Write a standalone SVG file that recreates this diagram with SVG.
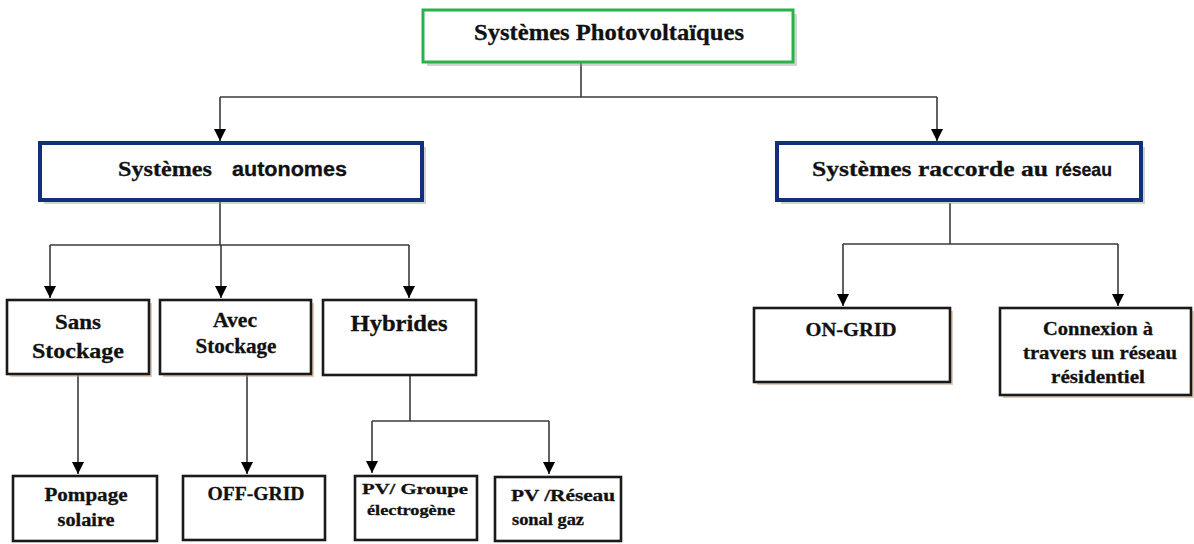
<svg xmlns="http://www.w3.org/2000/svg" width="1194" height="544" viewBox="0 0 1194 544">
  <style>
    .conn { fill: none; stroke: #3a3a3a; stroke-width: 1.6; }
    .box { fill: #ffffff; stroke: #1a1a1a; stroke-width: 2.6; }
    .navy { fill: #ffffff; stroke: #12307a; stroke-width: 4; }
    .green { fill: #ffffff; stroke: #2ab24a; stroke-width: 3; }
    .shadow { fill: #c9a07a; opacity: 0.55; }
    .gshadow { fill: #9aa09a; opacity: 0.45; }
    .t { font-family: "Liberation Serif", "Times New Roman", serif; font-weight: bold; fill: #111111; stroke: #111111; stroke-width: 0.3; }
    .s { font-family: "Liberation Sans", Arial, sans-serif; font-weight: bold; fill: #111111; stroke: #111111; stroke-width: 0.3; }
  </style>
  <defs>
    <marker id="arrow" markerUnits="userSpaceOnUse" markerWidth="14" markerHeight="14" refX="12" refY="6" orient="auto">
      <path d="M0,0 L12,6 L0,12 Z" fill="#000000"/>
    </marker>
  </defs>
  <rect width="1194" height="544" fill="#ffffff"/>

  <!-- connectors -->
  <g id="connectors">
    <path class="conn" d="M581,62 V97"/>
    <path class="conn" d="M220,97 H937"/>
    <path class="conn" d="M220,97 V141" marker-end="url(#arrow)"/>
    <path class="conn" d="M937,97 V141" marker-end="url(#arrow)"/>

    <path class="conn" d="M220,202 V245"/>
    <path class="conn" d="M50,245 H409"/>
    <path class="conn" d="M50,245 V298" marker-end="url(#arrow)"/>
    <path class="conn" d="M221,245 V298" marker-end="url(#arrow)"/>
    <path class="conn" d="M409,245 V298" marker-end="url(#arrow)"/>

    <path class="conn" d="M78,375 V474" marker-end="url(#arrow)"/>
    <path class="conn" d="M247,375 V474" marker-end="url(#arrow)"/>

    <path class="conn" d="M410,376 V421"/>
    <path class="conn" d="M372,421 H549"/>
    <path class="conn" d="M372,421 V473" marker-end="url(#arrow)"/>
    <path class="conn" d="M549,421 V474" marker-end="url(#arrow)"/>

    <path class="conn" d="M950,203 V244"/>
    <path class="conn" d="M843,244 H1118"/>
    <path class="conn" d="M843,244 V306" marker-end="url(#arrow)"/>
    <path class="conn" d="M1118,244 V306" marker-end="url(#arrow)"/>
  </g>

  <!-- root -->
  <g id="n-pv">
    <rect class="gshadow" x="427" y="14" width="370" height="52"/>
    <rect class="green" x="423" y="10" width="370" height="52"/>
    <text class="t" x="474" y="40" font-size="23" textLength="270" lengthAdjust="spacingAndGlyphs">Systèmes Photovoltaïques</text>
  </g>

  <!-- second level -->
  <g id="n-autonomes">
    <rect class="gshadow" x="44" y="147" width="382" height="57"/>
    <rect class="navy" x="40" y="143" width="382" height="57"/>
    <text class="t" x="118" y="176" font-size="22" textLength="94" lengthAdjust="spacingAndGlyphs">Systèmes</text>
    <text class="s" x="232" y="176" font-size="20" textLength="115" lengthAdjust="spacingAndGlyphs">autonomes</text>
  </g>
  <g id="n-raccorde">
    <rect class="gshadow" x="781" y="147" width="364" height="57"/>
    <rect class="navy" x="777" y="143" width="364" height="57"/>
    <text class="t" x="812" y="176" font-size="22" textLength="236" lengthAdjust="spacingAndGlyphs">Systèmes raccorde au</text>
    <text class="s" x="1055" y="176" font-size="19" textLength="57" lengthAdjust="spacingAndGlyphs">réseau</text>
  </g>

  <!-- third level, left -->
  <g id="n-sans">
    <rect class="shadow" x="10" y="303" width="142" height="74"/>
    <rect class="box" x="7" y="300" width="142" height="74"/>
    <text class="t" font-size="22" text-anchor="middle"><tspan x="78" y="329" textLength="46" lengthAdjust="spacingAndGlyphs">Sans</tspan><tspan x="78" y="358" textLength="92" lengthAdjust="spacingAndGlyphs">Stockage</tspan></text>
  </g>
  <g id="n-avec">
    <rect class="shadow" x="163" y="303" width="151" height="74"/>
    <rect class="box" x="160" y="300" width="151" height="74"/>
    <text class="t" font-size="20" text-anchor="middle"><tspan x="235" y="327" textLength="44" lengthAdjust="spacingAndGlyphs">Avec</tspan><tspan x="236" y="353" textLength="81" lengthAdjust="spacingAndGlyphs">Stockage</tspan></text>
  </g>
  <g id="n-hybrides">
    <rect class="box" x="323" y="300" width="153" height="75"/>
    <text class="t" x="399" y="331" font-size="23" text-anchor="middle" textLength="97" lengthAdjust="spacingAndGlyphs">Hybrides</text>
  </g>

  <!-- third level, right -->
  <g id="n-ongrid">
    <rect class="shadow" x="757" y="311" width="196" height="74"/>
    <rect class="box" x="754" y="308" width="196" height="74"/>
    <text class="t" x="851" y="336" font-size="19" text-anchor="middle" textLength="91" lengthAdjust="spacingAndGlyphs">ON-GRID</text>
  </g>
  <g id="n-connexion">
    <rect class="shadow" x="1003" y="311" width="192" height="87"/>
    <rect class="box" x="1000" y="308" width="191" height="87"/>
    <text class="t" font-size="19" text-anchor="middle"><tspan x="1098" y="335" textLength="110" lengthAdjust="spacingAndGlyphs">Connexion à</tspan><tspan x="1100" y="359" textLength="154" lengthAdjust="spacingAndGlyphs">travers un réseau</tspan><tspan x="1098" y="383" textLength="94" lengthAdjust="spacingAndGlyphs">résidentiel</tspan></text>
  </g>

  <!-- fourth level -->
  <g id="n-pompage">
    <rect class="box" x="13" y="476" width="144" height="65"/>
    <text class="t" font-size="18" text-anchor="middle"><tspan x="86" y="501" textLength="83" lengthAdjust="spacingAndGlyphs">Pompage</tspan><tspan x="86" y="526" textLength="57" lengthAdjust="spacingAndGlyphs">solaire</tspan></text>
  </g>
  <g id="n-offgrid">
    <rect class="box" x="183" y="476" width="142" height="64"/>
    <text class="t" x="256" y="500" font-size="19" text-anchor="middle" textLength="97" lengthAdjust="spacingAndGlyphs">OFF-GRID</text>
  </g>
  <g id="n-groupe">
    <rect class="box" x="355" y="476" width="122" height="64"/>
    <text class="t" font-size="15" text-anchor="middle"><tspan x="415" y="494" textLength="106" lengthAdjust="spacingAndGlyphs">PV/ Groupe</tspan><tspan x="411" y="515" textLength="88" lengthAdjust="spacingAndGlyphs">électrogène</tspan></text>
  </g>
  <g id="n-sonalgaz">
    <rect class="box" x="495" y="477" width="126" height="64"/>
    <text class="t" font-size="16" text-anchor="middle"><tspan x="563" y="501" textLength="104" lengthAdjust="spacingAndGlyphs">PV /Réseau</tspan><tspan x="548" y="525" textLength="72" lengthAdjust="spacingAndGlyphs">sonal gaz</tspan></text>
  </g>
</svg>
